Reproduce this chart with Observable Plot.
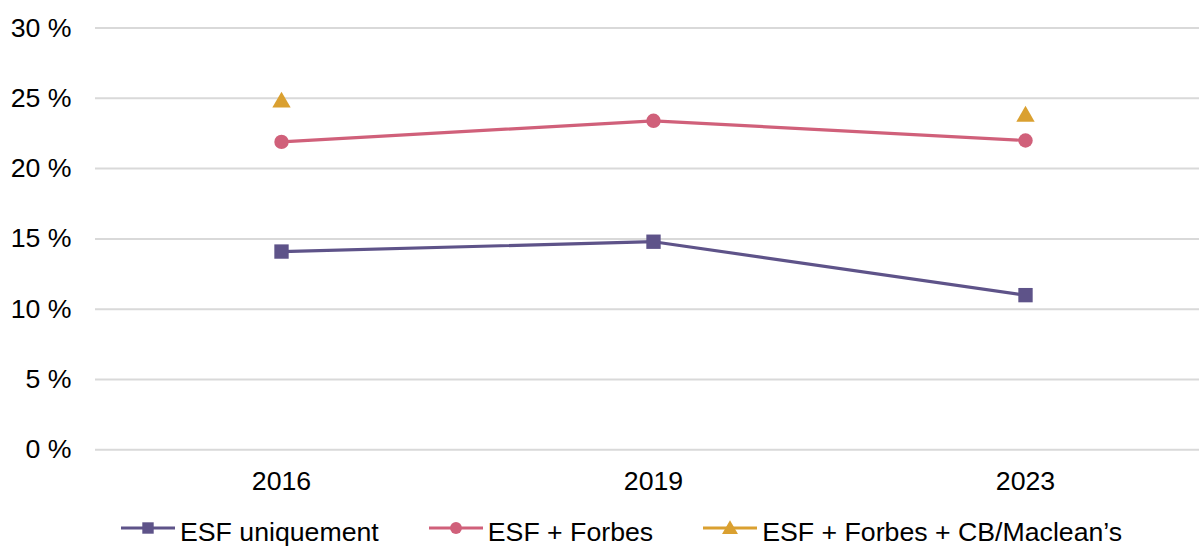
<!DOCTYPE html>
<html>
<head>
<meta charset="utf-8">
<script src="https://cdn.jsdelivr.net/npm/d3@7"></script>
<script src="https://cdn.jsdelivr.net/npm/@observablehq/plot@0.6"></script>
<style>
  html, body { margin: 0; padding: 0; background: #fff; }
  body { width: 1199px; height: 548px; overflow: hidden; position: relative; font-family: "Liberation Sans", Arial, sans-serif; }
  #chart svg { display: block; }
  #legend { position: absolute; left: 121px; top: 519px; display: flex; align-items: flex-start; gap: 50px; font-size: 26.7px; line-height: 27px; color: #000; white-space: nowrap; }
  .item { display: flex; align-items: flex-start; }
  .item svg { margin-right: 5px; display: block; }
</style>
</head>
<body>
<div id="chart"></div>
<div id="legend"></div>
<script>
const years = ["2016", "2019", "2023"];
const seriesNames = ["ESF uniquement", "ESF + Forbes", "ESF + Forbes + CB/Maclean’s"];
const esfOnly = [14.1, 14.8, 11.0];
const esfForbes = [21.9, 23.4, 22.0];
const esfForbesCB = [24.9, null, 23.9];
const yTicks = [0, 5, 10, 15, 20, 25, 30];
const colors = ["#5e5389", "#d0607a", "#daa030"];
const symbols = ["square", "circle", "triangle"];

const values = [esfOnly, esfForbes, esfForbesCB];
const data = [];
values.forEach((vals, si) => {
  vals.forEach((v, i) => {
    if (v != null) data.push({ series: seriesNames[si], year: years[i], value: v });
  });
});
const bySeries = s => data.filter(d => d.series === s);

const FS = 26.7;
const plot = Plot.plot({
  width: 1199,
  height: 500,
  marginLeft: 95,
  marginRight: 0,
  marginTop: 27.5,
  marginBottom: 50.7,
  style: { fontFamily: "'Liberation Sans', Arial, sans-serif", fontSize: FS + "px", color: "#000", background: "#fff" },
  x: { type: "point", domain: years, range: [281, 1025], padding: 0 },
  y: { domain: [0, 30] },
  marks: [
    Plot.gridY(yTicks, { stroke: "#d9d9d9", strokeWidth: 2, strokeOpacity: 1 }),
    Plot.axisY(yTicks, { tickSize: 0, tickPadding: 24, tickFormat: d => d + " %", fontSize: FS, label: null }),
    Plot.axisX({ tickSize: 0, tickPadding: 21.7, fontSize: FS, label: null }),
    Plot.line(bySeries(seriesNames[0]), { x: "year", y: "value", stroke: colors[0], strokeWidth: 3.2 }),
    Plot.line(bySeries(seriesNames[1]), { x: "year", y: "value", stroke: colors[1], strokeWidth: 3.2 }),
    Plot.dot(bySeries(seriesNames[0]), { x: "year", y: "value", symbol: "square", r: 8.1, fill: colors[0], stroke: "none" }),
    Plot.dot(bySeries(seriesNames[1]), { x: "year", y: "value", symbol: "circle", r: 7.2, fill: colors[1], stroke: "none" }),
    Plot.dot(bySeries(seriesNames[2]), { x: "year", y: "value", symbol: "triangle", r: 6.8, dy: 2.6, fill: colors[2], stroke: "none" })
  ]
});
document.getElementById("chart").appendChild(plot);

// Legend
const legend = document.getElementById("legend");
seriesNames.forEach((name, i) => {
  const item = document.createElement("div");
  item.className = "item";
  const ns = "http://www.w3.org/2000/svg";
  const svg = document.createElementNS(ns, "svg");
  svg.setAttribute("width", 54);
  svg.setAttribute("height", 27);
  const cy = 9;
  const line = document.createElementNS(ns, "line");
  line.setAttribute("x1", 0); line.setAttribute("x2", 54);
  line.setAttribute("y1", cy); line.setAttribute("y2", cy);
  line.setAttribute("stroke", colors[i]); line.setAttribute("stroke-width", 3.2);
  svg.appendChild(line);
  const sym = document.createElementNS(ns, "path");
  const size = symbols[i] === "square" ? 130 : symbols[i] === "circle" ? 110 : 110;
  const symType = symbols[i] === "square" ? d3.symbolSquare : symbols[i] === "circle" ? d3.symbolCircle : d3.symbolTriangle;
  sym.setAttribute("d", d3.symbol(symType, size)());
  sym.setAttribute("transform", `translate(27,${symbols[i] === "triangle" ? cy + 1.5 : cy})`);
  sym.setAttribute("fill", colors[i]);
  svg.appendChild(sym);
  item.appendChild(svg);
  const label = document.createElement("span");
  label.textContent = name;
  item.appendChild(label);
  legend.appendChild(item);
});
</script>
</body>
</html>
